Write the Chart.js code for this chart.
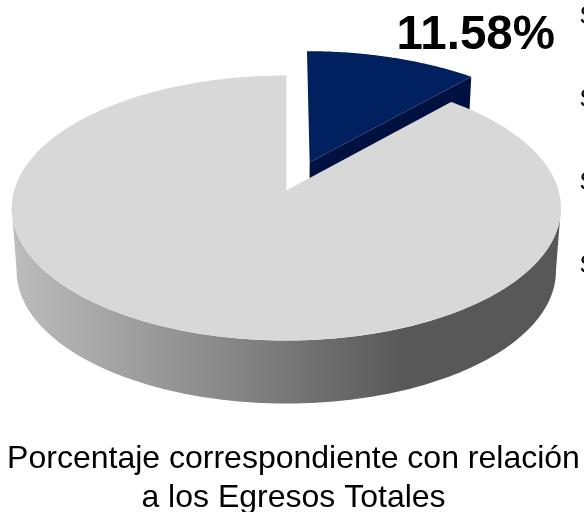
<!DOCTYPE html>
<html><head><meta charset="utf-8">
<style>html,body{margin:0;padding:0;background:#fff}#w{width:584px;height:512px}</style>
<script src="https://cdn.jsdelivr.net/npm/chart.js@4"></script></head>
<body><div id="w"><canvas id="c" width="584" height="512"></canvas></div>
<script>
const categories = ['Egresos correspondientes', 'Otros egresos'];
const seriesValues = [11.58, 88.42];
const sliceLabel = '11.58%';
const captionLines = ['Porcentaje correspondiente con relación', 'a los Egresos Totales'];
const legendInitials = ['S', 'S', 'S', 'S'];

const K = 0.132, RX = 272.2, RY = 130.2, CX = 286.3, CY = 190.5, DEPTH = 63, SHRINK = 0.982, BASE_R = 200;
function proj(u, v) { const w = 1 - K * v; return [CX + RX * u / w, CY + RY * v / w]; }
function low(p) { return [CX + (p[0] - CX) * SHRINK, p[1] + DEPTH]; }

const pie3d = {
  id: 'pie3d',
  beforeDatasetDraw(chart, args) {
    const ctx = chart.ctx, arcs = args.meta.data;
    const geo = arcs.map(el => {
      const mid = (el.startAngle + el.endAngle) / 2;
      const o = (el.options.offset || 0) / BASE_R;
      return { start: el.startAngle, end: el.endAngle, ou: o * Math.cos(mid) + (o ? 0.003 : 0), ov: o * Math.sin(mid), r: o ? 1.022 : 1 };
    });
    const point = (g, a) => proj(g.ou + g.r * Math.cos(a), g.ov + g.r * Math.sin(a));
    const rim = (g, a0, a1, n) => { const p = []; for (let i = 0; i <= n; i++) p.push(point(g, a0 + (a1 - a0) * i / n)); return p; };
    const fill = (pts, c) => { ctx.beginPath(); pts.forEach((p, i) => i ? ctx.lineTo(p[0], p[1]) : ctx.moveTo(p[0], p[1])); ctx.closePath(); ctx.fillStyle = c; ctx.fill(); };

    ctx.save();
    const b = geo[0], bApex = proj(b.ou, b.ov), bEnd = point(b, b.end);
    fill([bApex, bEnd, low(bEnd), low(bApex)], '#00113f');
    fill([bApex].concat(rim(b, b.start, b.end, 60)), arcs[0].options.backgroundColor);
    const g = geo[1];
    const e = Math.asin(0.128);
    const front = rim(g, e, Math.PI - e, 240);
    const grad = ctx.createLinearGradient(14, 0, 404, 0);
    grad.addColorStop(0, '#bcbcbc');
    grad.addColorStop(0.5, '#8c8c8c');
    grad.addColorStop(1, '#585858');
    fill(front.concat(front.map(low).reverse()), grad);
    fill([proj(g.ou, g.ov)].concat(rim(g, g.start, g.end, 360)), arcs[1].options.backgroundColor);
    ctx.restore();
    return false;
  },
  afterDraw(chart) {
    const ctx = chart.ctx;
    ctx.save();
    ctx.fillStyle = '#000';
    ctx.textBaseline = 'alphabetic';
    ctx.font = 'bold 47.5px "Liberation Sans"';
    ctx.textAlign = 'right';
    ctx.fillText(sliceLabel, 555, 49);
    ctx.textAlign = 'left';
    ctx.font = '25px "Liberation Sans"';
    legendInitials.forEach((t, i) => ctx.fillText(t, 579.5, 24 + i * 83));
    ctx.restore();
  }
};

new Chart(document.getElementById('c'), {
  type: 'pie',
  data: { labels: categories, datasets: [{ data: seriesValues, backgroundColor: ['#002060', '#d8d8d8'], borderWidth: 0, offset: [48, 0] }] },
  options: {
    responsive: false, animation: false, radius: BASE_R,
    layout: { padding: { left: 3, right: 0, top: 0, bottom: 0 } },
    events: [],
    plugins: {
      legend: { display: false }, tooltip: { enabled: false },
      title: { display: true, position: 'bottom', text: captionLines, color: '#000', font: { family: '"Liberation Sans"', size: 32, weight: 'normal', lineHeight: 1.2 }, padding: { top: 0, bottom: -5 } }
    }
  },
  plugins: [pie3d]
});
</script></body></html>
